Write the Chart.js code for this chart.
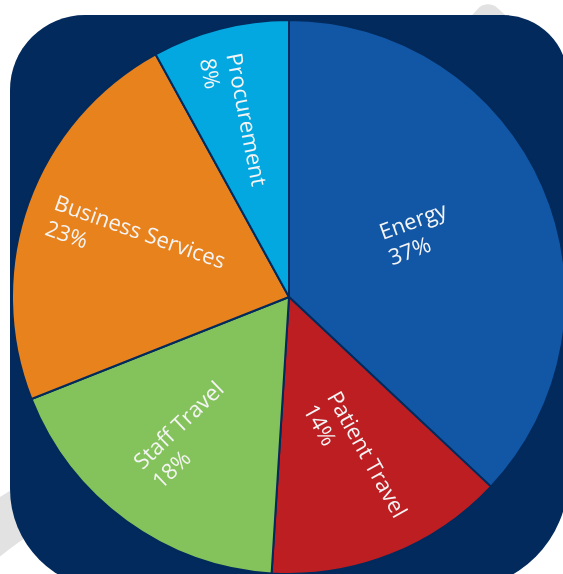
<!DOCTYPE html>
<html>
<head>
<meta charset="utf-8">
<script src="https://cdn.jsdelivr.net/npm/chart.js@4"></script>
<style>
  html, body { margin:0; padding:0; width:563px; height:574px; overflow:hidden; background:#ffffff; }
  #ring { position:absolute; left:-163px; top:437px; width:726px; height:726px; box-sizing:border-box;
          border:48px solid #e2e2e2; border-radius:50%; }
  #tip { position:absolute; left:450px; top:15px; width:80px; height:80px; background:#e2e2e2;
         border-radius:14px; transform:rotate(42deg); }
  #panel { position:absolute; left:10px; top:15px; width:558px; height:574px; background:#022a5c;
           border-radius:75px 65px 110px 100px; }
  #chart1 { position:absolute; left:11px; top:19px; }
</style>
</head>
<body>
<div id="ring"></div>
<div id="tip"></div>
<div id="panel"></div>
<canvas id="chart1" width="556" height="556"></canvas>
<script>
// emissions split, % of total
const labels = ["Energy","Patient Travel","Staff Travel","Business Services","Procurement"];
const values = [37,14,18,23,8];
const colors = ["#1157a6","#bd1e22","#84c35b","#e8821d","#03a8e0"];

// label placement: fraction of radius, angle nudge (deg), text rotation (deg)
const labelRadius = [0.517,0.639,0.618,0.586,0.663];
const labelNudge  = [-2.3,0,-0.2,-1.4,-3.7];
const labelRotate = [-20,61,-44,19.5,79];

const sliceLabels = {
  id:"sliceLabels",
  afterDatasetsDraw(chart){
    const ctx = chart.ctx;
    const arcs = chart.getDatasetMeta(0).data;
    ctx.save();
    ctx.font = "22px 'Open Sans'";
    ctx.fillStyle = "#f4f4f4";
    ctx.textBaseline = "middle";
    ctx.textAlign = "left";
    for (let i=0;i<arcs.length;++i) {
      const a = arcs[i].getProps(["x","y","startAngle","endAngle","outerRadius"],true);
      const mid = (a.startAngle+a.endAngle)/2 + labelNudge[i]*Math.PI/180;
      const r = a.outerRadius*labelRadius[i];
      const px = a.x + r*Math.cos(mid), py = a.y + r*Math.sin(mid);
      const lines = [labels[i], values[i]+"%"];
      const lh = 27;
      const w = Math.max(...lines.map(s => ctx.measureText(s).width));
      ctx.save();
      ctx.translate(px,py);
      ctx.rotate(labelRotate[i]*Math.PI/180);
      for (let j=0;j<lines.length;++j) {
        ctx.fillText(lines[j], -w/2, (j-(lines.length-1)/2)*lh);
      }
      ctx.restore();
    }
    ctx.restore();
  }
};

new Chart(document.getElementById("chart1"), {
  type: "pie",
  data: { labels: labels, datasets: [{ data: values, backgroundColor: colors, borderColor: "#022a5c", borderWidth: 2 }] },
  options: {
    responsive: false,
    animation: false,
    layout: { padding: 0 },
    plugins: { legend: { display:false }, tooltip: { enabled:false } }
  },
  plugins: [sliceLabels]
});
</script>
</body>
</html>
